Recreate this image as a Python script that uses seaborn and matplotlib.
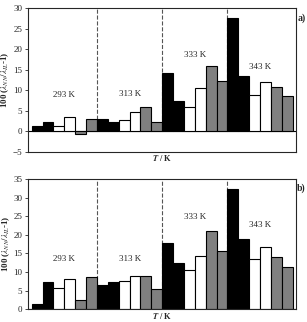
import numpy as np
import pandas as pd
import seaborn as sns
import matplotlib.pyplot as plt

temps = ["293 K", "313 K", "333 K", "343 K"]
bar_colors = ["black", "black", "white", "white", "gray", "gray"]

# deviations per temperature group, 6 bars each
dev_a = [1.4, 2.4, 1.4, 3.5, -0.7, 3.0,
         2.9, 2.4, 2.8, 4.8, 5.9, 2.2,
         14.1, 7.3, 5.9, 10.5, 15.9, 12.3,
         27.6, 13.4, 8.9, 12.1, 10.7, 8.5]
dev_b = [1.5, 7.2, 5.7, 8.0, 2.4, 8.6,
         6.5, 7.3, 7.7, 8.9, 9.0, 5.5,
         17.9, 12.3, 10.5, 14.4, 21.0, 15.6,
         32.2, 18.8, 13.5, 16.7, 14.0, 11.4]

label_y_a = [8.8, 9.2, 18.5, 15.6]
label_y_b = [13.6, 13.6, 24.7, 22.5]

sns.set_style("ticks")
plt.rcParams['font.family'] = ['Liberation Serif', 'DejaVu Serif']
plt.rcParams['mathtext.fontset'] = 'stix'

fig = plt.figure(figsize=(3.07, 3.22), dpi=100)
ax1 = fig.add_axes([0.091, 0.528, 0.873, 0.447])
ax2 = fig.add_axes([0.091, 0.040, 0.873, 0.404])


def draw(ax, vals, ylim, yticks, label_y, tag):
    df = pd.DataFrame({"bar": [str(i) for i in range(len(vals))], "val": vals})
    cols = bar_colors * len(temps)
    sns.barplot(data=df, x="bar", y="val", hue="bar", palette=cols, legend=False,
                width=1.0, edgecolor="black", linewidth=0.8, ax=ax, saturation=1)
    for b in [5.5, 11.5, 17.5]:
        ax.plot([b, b], [0, ylim[1]], color="#555555", ls="--", lw=0.8, zorder=0.5)
    ax.axhline(0, color="black", lw=0.8, zorder=0.4)
    ax.set_xlim(-0.85, 23.8)
    ax.set_ylim(*ylim)
    ax.set_yticks(yticks)
    ax.set_xticks([])
    ax.tick_params(axis="y", labelsize=6.5, length=2, width=0.6, pad=2)
    for sp in ax.spines.values():
        sp.set_linewidth(0.8)
    for i, t in enumerate(temps):
        ax.text(6 * i + 2.5, label_y[i], t, ha="center", va="center", fontsize=6.5)
    ax.set_xlabel(r"$\mathbfit{T}$ / K", fontsize=6, fontweight="bold", labelpad=1)
    ax.set_ylabel(r"100 ($\lambda_{NN}/\lambda_{IL}$-1)", fontsize=6.5, fontweight="bold", labelpad=1)
    ax.text(1.005, 0.93, tag, transform=ax.transAxes, fontsize=7, fontweight="bold",
            ha="left", va="center")


draw(ax1, dev_a, (-5, 30), np.arange(-5, 31, 5), label_y_a, "a)")
draw(ax2, dev_b, (0, 35), np.arange(0, 36, 5), label_y_b, "b)")

fig.savefig("out.png", dpi=100)
